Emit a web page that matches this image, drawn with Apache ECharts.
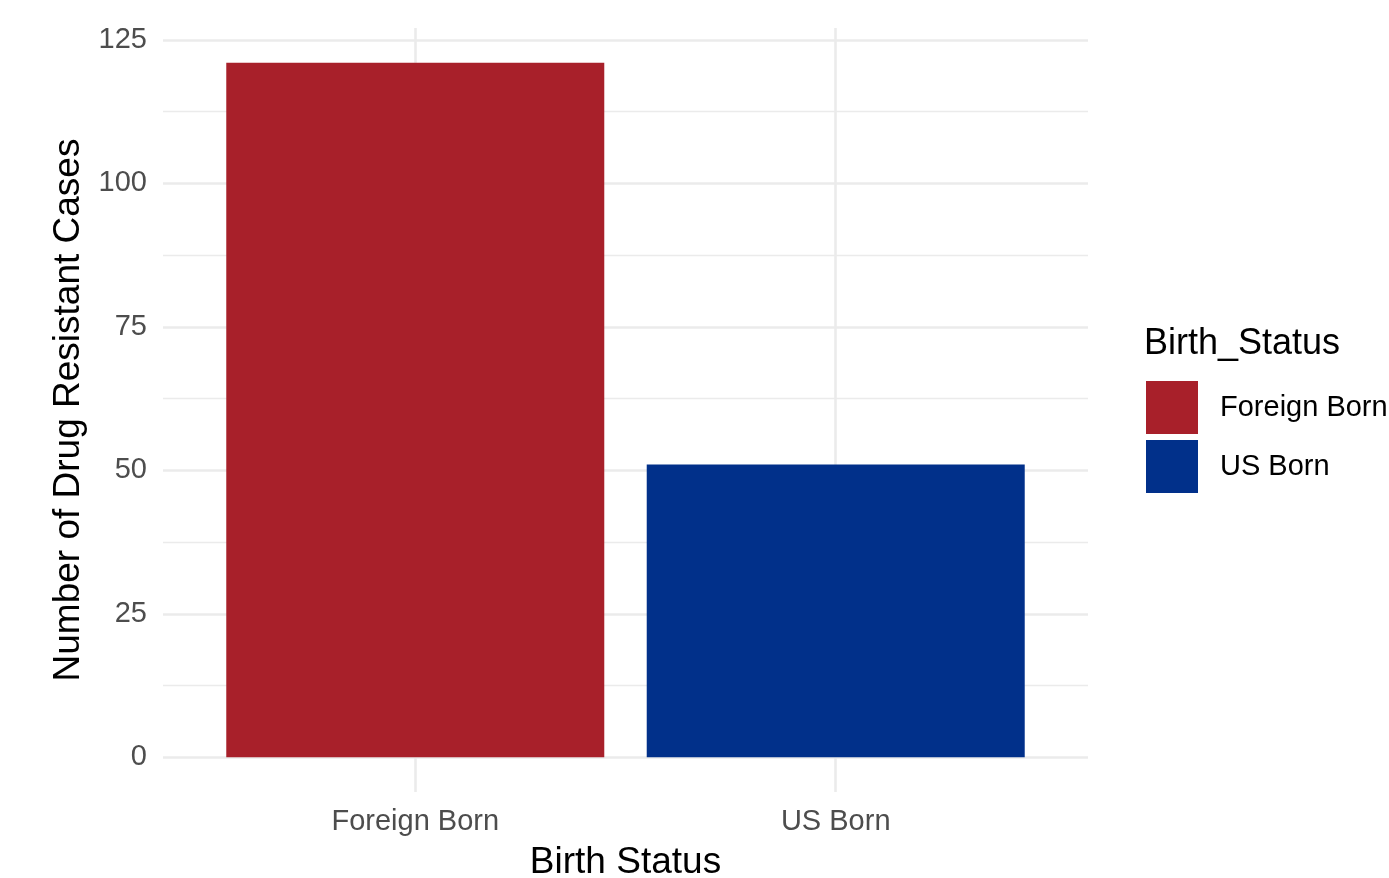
<!DOCTYPE html>
<html>
<head>
<meta charset="utf-8">
<script src="https://cdn.jsdelivr.net/npm/echarts@6/dist/echarts.min.js"></script>
<style>
  html, body { margin: 0; padding: 0; background: #fff; overflow: hidden; }
  #chart { width: 1389px; height: 878px; }
</style>
</head>
<body>
<div id="chart"></div>
<script>
// data
var categories = ['Foreign Born', 'US Born'];
var foreignBorn = [121];
var usBorn = [51];
var yTicks = [0, 25, 50, 75, 100, 125];
var yMinor = [12.5, 37.5, 62.5, 87.5, 112.5];
var colors = ['#A8202A', '#01308A'];

var font = 'Liberation Sans, Arial, Helvetica, sans-serif';
var chart = echarts.init(document.getElementById('chart'), null, {renderer: 'canvas'});

// gridlines drawn as marklines (ggplot style: major + minor)
var gridLines = [];
yTicks.forEach(function (v) {
    gridLines.push({yAxis: v, lineStyle: {color: '#EBEBEB', width: 2.6, type: 'solid'}});
});
yMinor.forEach(function (v) {
    gridLines.push({yAxis: v, lineStyle: {color: '#EBEBEB', width: 1.4, type: 'solid'}});
});
categories.forEach(function (c, i) {
    gridLines.push({xAxis: i + 1, lineStyle: {color: '#EBEBEB', width: 2.6, type: 'solid'}});
});

var option = {
    backgroundColor: '#fff',
    animation: false,
    textStyle: {fontFamily: font},
    title: {
        text: 'Birth_Status',
        left: 1144,
        top: 326,
        padding: 0,
        textStyle: {fontSize: 36, fontWeight: 'normal', color: '#000', fontFamily: font}
    },
    legend: {
        orient: 'vertical',
        left: 1146,
        top: 381,
        padding: 0,
        icon: 'rect',
        itemWidth: 52,
        itemHeight: 53,
        itemGap: 6,
        data: categories,
        textStyle: {fontSize: 29, color: '#000', padding: [9, 0, 0, 17], fontFamily: font}
    },
    grid: {left: 163, width: 925, top: 28, height: 764, outerBoundsMode: 'none'},
    xAxis: {
        type: 'value',
        min: 0.4,
        max: 2.6,
        name: 'Birth Status',
        nameLocation: 'middle',
        nameGap: 52,
        nameTextStyle: {fontSize: 37, color: '#000', fontFamily: font},
        axisLine: {show: false},
        axisTick: {show: false},
        splitLine: {show: false},
        axisLabel: {
            customValues: [1, 2],
            fontSize: 29,
            color: '#4D4D4D',
            margin: 15,
            fontFamily: font,
            formatter: function (v) { return categories[Math.round(v) - 1]; }
        }
    },
    yAxis: {
        type: 'value',
        min: -6.05,
        max: 127.05,
        name: 'Number of Drug Resistant Cases',
        nameLocation: 'middle',
        nameGap: 75,
        nameTextStyle: {fontSize: 37, color: '#000', fontFamily: font},
        axisLine: {show: false},
        axisTick: {show: false},
        splitLine: {show: false},
        axisLabel: {
            customValues: yTicks,
            fontSize: 29,
            color: '#4D4D4D',
            margin: 16,
            fontFamily: font
        }
    },
    series: [
        {
            name: 'grid',
            type: 'line',
            data: [],
            z: 0,
            silent: true,
            markLine: {
                silent: true,
                symbol: 'none',
                label: {show: false},
                animation: false,
                data: gridLines
            }
        },
        {
            name: categories[0],
            type: 'bar',
            z: 5,
            barWidth: 378,
            barGap: '-100%',
            itemStyle: {color: colors[0]},
            data: foreignBorn.map(function (v) { return [1, v]; })
        },
        {
            name: categories[1],
            type: 'bar',
            z: 5,
            barWidth: 378,
            barGap: '-100%',
            itemStyle: {color: colors[1]},
            data: usBorn.map(function (v) { return [2, v]; })
        }
    ]
};

chart.setOption(option);
</script>
</body>
</html>
